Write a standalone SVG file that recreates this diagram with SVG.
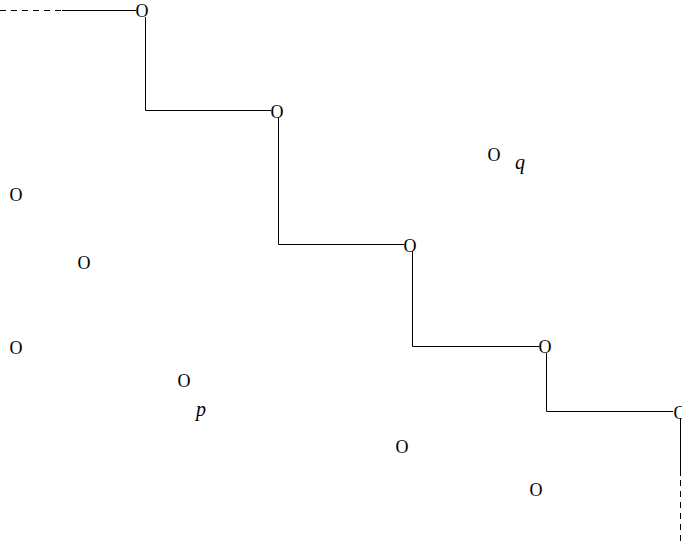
<svg xmlns="http://www.w3.org/2000/svg" width="682" height="544" viewBox="0 0 682 544">
<style>
.pt{font-family:"Liberation Serif","Times New Roman",serif;font-size:18px;fill:#000;text-anchor:middle}
.lb{font-family:"Liberation Serif","Times New Roman",serif;font-size:20px;font-style:italic;fill:#000}
.ln{fill:none;stroke:#000;stroke-width:1}
.ds{fill:none;stroke:#000;stroke-width:1;stroke-dasharray:6,5}
</style>
<rect width="682" height="544" fill="#fff"/>
<g id="connectors">
<path class="ds" d="M0,10.5H62"/>
<path class="ln" d="M62,10.5H136"/>
<path class="ln" d="M145.5,17V110.5H271"/>
<path class="ln" d="M278.5,117V244.5H404"/>
<path class="ln" d="M412.5,251V346.5H539"/>
<path class="ln" d="M546.5,353V411.5H673"/>
<path class="ln" d="M680.5,418V476"/>
<path class="ds" d="M680.5,480V544"/>
</g>
<g id="n1"><text class="pt" x="142" y="17">O</text></g>
<g id="n2"><text class="pt" x="277" y="118">O</text></g>
<g id="n3"><text class="pt" x="410" y="252">O</text></g>
<g id="n4"><text class="pt" x="545" y="353">O</text></g>
<g id="n5"><text class="pt" x="680" y="419">O</text></g>
<g id="q"><text class="pt" x="494" y="161">O</text><text class="lb" x="515" y="169">q</text></g>
<g id="n6"><text class="pt" x="16" y="201">O</text></g>
<g id="n7"><text class="pt" x="84" y="269">O</text></g>
<g id="n8"><text class="pt" x="16" y="354">O</text></g>
<g id="p"><text class="pt" x="184" y="387">O</text><text class="lb" x="196" y="416">p</text></g>
<g id="n9"><text class="pt" x="402" y="453">O</text></g>
<g id="n10"><text class="pt" x="536" y="496">O</text></g>
</svg>
